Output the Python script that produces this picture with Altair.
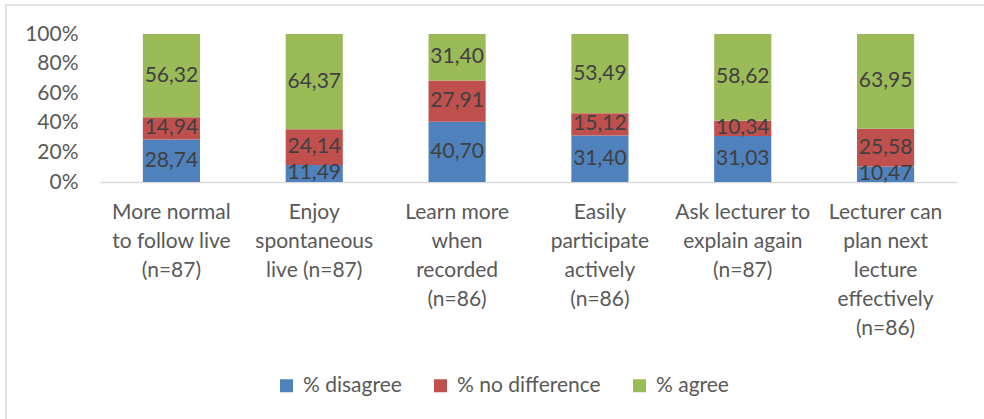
import altair as alt
import pandas as pd

categories = [
    "More normal|to follow live|(n=87)",
    "Enjoy|spontaneous|live (n=87)",
    "Learn more|when|recorded|(n=86)",
    "Easily|participate|actively|(n=86)",
    "Ask lecturer to|explain again|(n=87)",
    "Lecturer can|plan next|lecture|effectively|(n=86)",
]
series = ["% disagree", "% no difference", "% agree"]
disagree = [28.74, 11.49, 40.70, 31.40, 31.03, 10.47]
no_diff = [14.94, 24.14, 27.91, 15.12, 10.34, 25.58]
agree = [56.32, 64.37, 31.40, 53.49, 58.62, 63.95]
y_ticks = [0, 0.2, 0.4, 0.6, 0.8, 1.0]
colors = ["#4F81BD", "#C0504D", "#9BBB59"]

rows = []
for i, c in enumerate(categories):
    for j, (s, vals) in enumerate(zip(series, [disagree, no_diff, agree])):
        v = vals[i]
        rows.append({"cat": c, "series": s, "value": v, "ord": j,
                     "label": f"{v:.2f}".replace(".", ",")})
df = pd.DataFrame(rows)

FONT = "Lato"
FS = 21

base = alt.Chart(df).transform_stack(
    stack="value", groupby=["cat"], as_=["y0", "y1"],
    sort=[alt.SortField("ord", order="ascending")]
).transform_calculate(
    p0="datum.y0/100", p1="datum.y1/100", mid="(datum.y0+datum.y1)/200"
)

x_axis = alt.Axis(labelExpr="split(datum.label, '|')", labelAngle=0,
                  labelFont=FONT, labelFontSize=FS, labelColor="#595959",
                  labelLineHeight=29, labelPadding=19, ticks=False,
                  domainColor="#D9D9D9", domainWidth=1.5,
                  labelBaseline="top", labelOverlap=False)
x_scale = alt.Scale(paddingInner=0.6, paddingOuter=0.3)
y_axis = alt.Axis(format=".0%", values=y_ticks,
                  grid=False, domain=False, ticks=False,
                  labelOverlap=False, labelFlush=False, labelBound=False,
                  labelFont=FONT, labelFontSize=FS, labelColor="#595959",
                  labelPadding=22)
y_scale = alt.Scale(domain=[0, 1], nice=False)

bars = base.mark_bar().encode(
    x=alt.X("cat:N", sort=categories, title=None, scale=x_scale, axis=x_axis),
    y=alt.Y("p0:Q", title=None, scale=y_scale, axis=y_axis),
    y2="p1:Q",
    color=alt.Color("series:N", sort=series,
                    scale=alt.Scale(domain=series, range=colors),
                    legend=alt.Legend(title=None, orient="none", direction="horizontal",
                                      legendX=176, legendY=341,
                                      symbolType="square", symbolSize=169,
                                      symbolStrokeWidth=0,
                                      labelFont=FONT, labelFontSize=FS,
                                      labelColor="#595959", labelOffset=6,
                                      columnPadding=28)),
    order=alt.Order("ord:Q"),
)

text = base.mark_text(font=FONT, fontSize=FS, color="#404040").encode(
    x=alt.X("cat:N", sort=categories, title=None, scale=x_scale, axis=x_axis),
    y=alt.Y("mid:Q", title=None, scale=y_scale, axis=y_axis),
    text="label:N",
)

border = alt.Chart(pd.DataFrame({"a": [0]})).mark_rect(
    fill=None, stroke="#D9D9D9", strokeWidth=1.5, clip=False
).encode(x=alt.value(-94), x2=alt.value(960), y=alt.value(-29), y2=alt.value(500))

chart = alt.layer(border, bars, text).properties(
    width=857, height=148,
    autosize=alt.AutoSizeParams(type="none"),
    padding={"left": 100, "top": 34, "right": 27, "bottom": 237},
).configure_view(stroke=None).configure_axis(labelOverlap=False)

chart.save("out.html", embed_options={"renderer": "svg", "actions": False})
